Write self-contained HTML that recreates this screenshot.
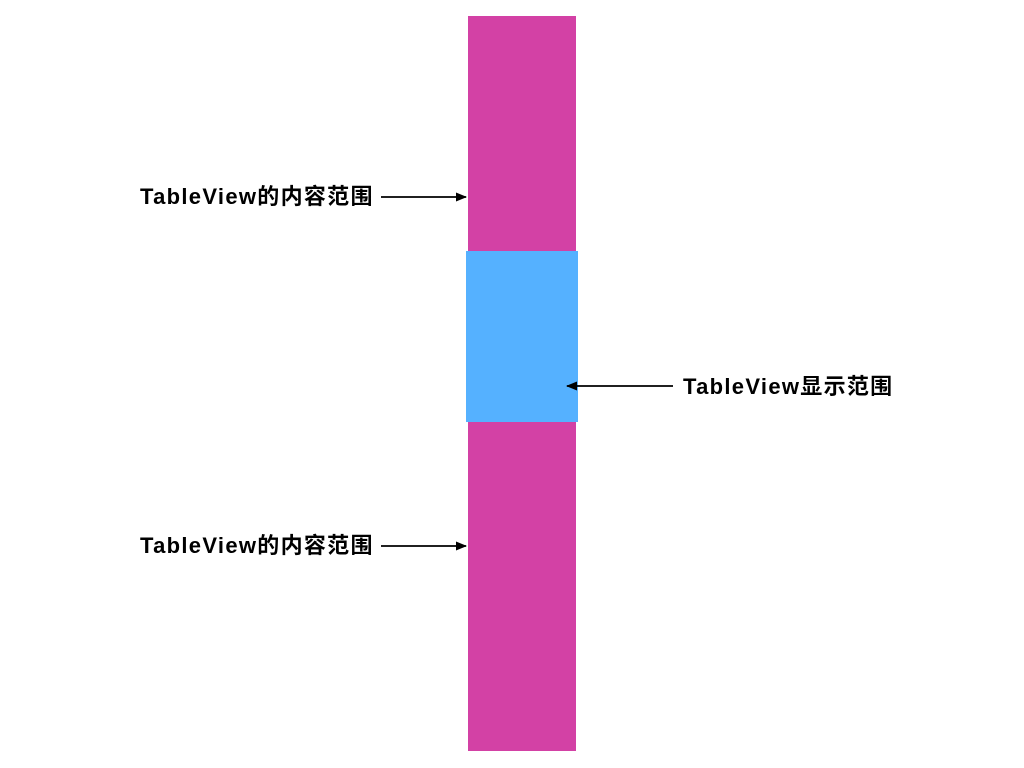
<!DOCTYPE html>
<html><head><meta charset="utf-8"><style>
body{margin:0;width:1024px;height:768px;background:#fff;position:relative;overflow:hidden;font-family:"Liberation Sans","Noto Sans CJK SC",sans-serif;}
.r{position:absolute}
.t{position:absolute;font-weight:bold;font-size:22px;letter-spacing:1.3px;color:#000;white-space:nowrap;line-height:24px}
</style></head><body>
<div class="r" style="left:468px;top:16px;width:108px;height:735px;background:#d341a5"></div>
<div class="r" style="left:466px;top:251px;width:112px;height:171px;background:#55b1ff"></div>
<div class="t" style="left:140px;top:185px">TableView的内容范围</div>
<div class="t" style="left:140px;top:534px">TableView的内容范围</div>
<div class="t" style="left:683px;top:375px">TableView显示范围</div>
<svg class="r" style="left:0;top:0" width="1024" height="768">
<defs><marker id="a" markerWidth="11" markerHeight="9" refX="10" refY="4.5" orient="auto" markerUnits="userSpaceOnUse"><path d="M0,0 L11,4.5 L0,9z" fill="#000"/></marker></defs>
<line x1="381" y1="197" x2="466" y2="197" stroke="#000" stroke-width="1.8" marker-end="url(#a)"/>
<line x1="381" y1="546" x2="466" y2="546" stroke="#000" stroke-width="1.8" marker-end="url(#a)"/>
<line x1="673" y1="386" x2="567" y2="386" stroke="#000" stroke-width="1.8" marker-end="url(#a)"/>
</svg>
</body></html>
